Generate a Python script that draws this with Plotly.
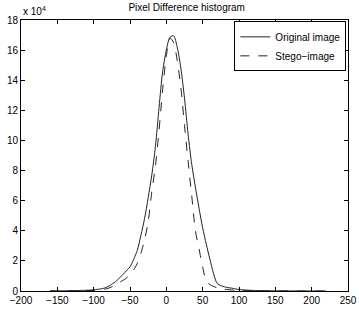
import plotly.graph_objects as go

# pixel difference values (x) and histogram counts
diff_values = list(range(-160, 225, 5))

original_counts = [
    50, 100, 100, 120, 150, 200, 250, 300, 350, 400,        # -160..-115
    500, 600, 800, 1100, 1400, 2000, 3000, 4500, 6200, 8500,  # -110..-65
    10800, 13500, 16000, 21000, 27000, 37000, 48000, 62000, 77000, 96000,  # -60..-15
    122000, 146000, 160000, 168500, 169500, 162000, 148000, 128000, 104000, 84000,  # -10..35
    69000, 55000, 42000, 31000, 21000, 11500, 5000, 3600, 2800, 2200,  # 40..85
    1900, 1400, 1000, 800, 600, 500, 400, 300, 250, 200,  # 90..135
    150, 120, 100, 80, 70, 60, 50, 40, 30, 25,  # 140..185
    20, 15, 10, 8, 6, 4, 2,  # 190..220
]

stego_counts = [
    30, 50, 50, 70, 90, 120, 150, 180, 200, 250,  # -160..-115
    300, 350, 400, 600, 800, 1200, 1800, 2800, 4000, 5500,  # -110..-65
    7000, 8500, 11000, 14000, 18400, 25000, 34000, 46000, 66000, 83000,  # -60..-15
    107000, 134000, 156000, 168000, 165000, 153000, 135000, 110000, 86000, 63000,  # -10..35
    40000, 28000, 16000, 6500, 4200, 3000, 2200, 1700, 1200, 900,  # 40..85
    700, 500, 400, 300, 250, 200, 150, 120, 100, 80,  # 90..135
    60, 50, 40, 30, 25, 20, 15, 10, 8, 6,  # 140..185
    5, 4, 3, 2, 2, 1, 1,  # 190..220
]

x_ticks = [-200, -150, -100, -50, 0, 50, 100, 150, 200, 250]
y_tickvals = [i * 20000 for i in range(10)]
y_ticktext = [str(i * 2) for i in range(10)]

font = dict(family="Liberation Sans, Arial, sans-serif", size=10, color="black")

fig = go.Figure()
fig.add_trace(go.Scatter(x=diff_values, y=original_counts, mode="lines",
                         name="Original image",
                         line=dict(color="#222222", width=1, shape="spline",
                                   smoothing=0.8)))
fig.add_trace(go.Scatter(x=diff_values, y=stego_counts, mode="lines",
                         name="Stego\u2212image",
                         line=dict(color="#222222", width=1, dash="dash",
                                   shape="spline", smoothing=0.8)))

fig.update_layout(
    width=359, height=309,
    margin=dict(l=21, r=11, t=20, b=18),
    paper_bgcolor="white", plot_bgcolor="white",
    font=font,
    showlegend=True,
    title=dict(text="Pixel Difference histogram", x=0.52, xanchor="center",
               y=1.0, yanchor="top", pad=dict(t=4, b=0), font=dict(size=10),
               automargin=False),
    legend=dict(x=0.995, y=0.995, xanchor="right", yanchor="top",
                bgcolor="white", bordercolor="black", borderwidth=1,
                font=dict(size=10), tracegroupgap=0, itemwidth=30),
    xaxis=dict(range=[-200, 250], tickvals=x_ticks, ticks="inside", ticklen=4,
               showline=True, linecolor="black", linewidth=1, mirror="ticks",
               showgrid=False, zeroline=False, tickcolor="black",
               automargin=False),
    yaxis=dict(range=[0, 180000], tickvals=y_tickvals, ticktext=y_ticktext,
               ticks="inside", ticklen=4, showline=True, linecolor="black",
               linewidth=1, mirror="ticks", showgrid=False, zeroline=False,
               tickcolor="black", automargin=False),
)
fig.add_annotation(text="x 10<sup>4</sup>", xref="paper", yref="paper",
                   x=0.0, y=1.0, xanchor="left", yanchor="bottom",
                   showarrow=False, font=dict(size=10), yshift=1)

fig.write_html("out.html",
               config={"displayModeBar": False},
               post_script="document.body.style.margin='0';"
                           "document.body.style.overflow='hidden';")
